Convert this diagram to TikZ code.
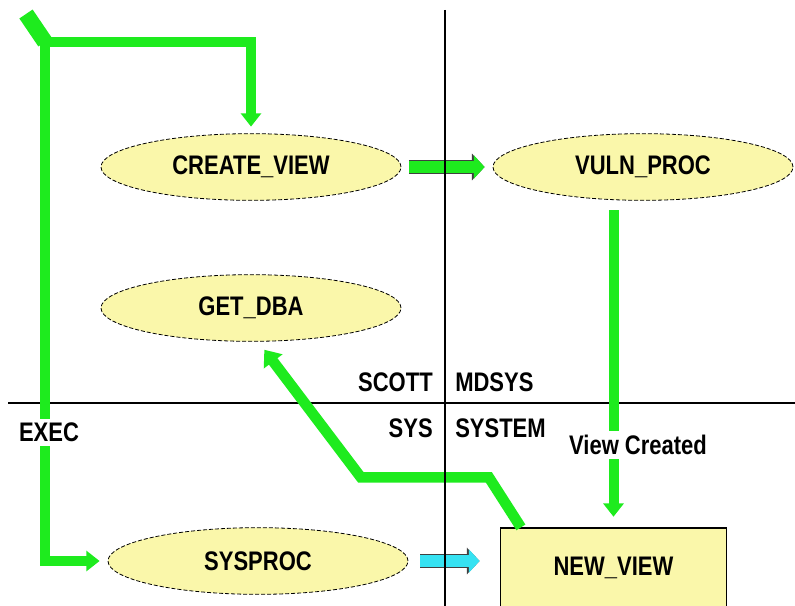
\documentclass[tikz,border=0pt]{standalone}
\usepackage{fontspec}
\setmainfont{Liberation Sans}
\usepackage{graphicx}
\usetikzlibrary{shapes.geometric, arrows.meta}
\definecolor{flowgreen}{HTML}{1EEB1E}
\definecolor{flowcyan}{HTML}{36E2F2}
\definecolor{procfill}{HTML}{FAF7AA}
\newcommand{\tallword}[1]{\scalebox{1}[1.22]{#1}}

\begin{document}
\begin{tikzpicture}[
    x=0.75pt, y=-0.75pt,
    every node/.style={font=\fontsize{16.5}{20}\selectfont\bfseries},
    proc/.style={ellipse, draw=black, dashed, dash pattern=on 3pt off 1.5pt, line width=0.6pt, fill=procfill, minimum width=225pt, minimum height=50pt, inner sep=0pt},
    viewbox/.style={rectangle, draw=black, line width=0.9pt, fill=procfill, minimum width=170pt, minimum height=60pt},
    axis/.style={draw=black, line width=1.4pt},
    flow/.style={draw=flowgreen, line width=7.5pt, -{Triangle[width=15pt, length=10pt]}},
    blockflow/.style={draw=#1, line width=9pt, -{Triangle[width=17pt, length=8pt]}, preaction={draw=black!75, line width=10.6pt, -{Triangle[width=19.5pt, length=9.5pt]}}},
    zone/.style={inner sep=0pt},
    tag/.style={fill=white, inner sep=3pt}
]
  \useasboundingbox (0,0) rectangle (795,606);

  % schema boundary (SCOTT/MDSYS above, SYS/SYSTEM below)
  \draw[axis] (8,403) -- (795,403);

  % procedures and the view
  \node[proc] (cv) at (251,167) {\tallword{CREATE\_VIEW}};
  \node[proc] (vp) at (643,167) {\tallword{VULN\_PROC}};
  \node[proc] (gd) at (251,308) {\tallword{GET\_DBA}};
  \node[proc] (sp) at (258,561) {\tallword{SYSPROC}};
  \node[viewbox] (nv) at (613.5,568) {\tallword{NEW\_VIEW}};

  % EXEC entry, split in two
  \coordinate (stub) at (26,14);
  \coordinate (split) at (45,42);
  \draw[flowgreen, line width=12pt, line cap=butt] (stub) -- (split);
  \draw[flow, shorten >=5pt] ([xshift=-2.8pt]split) -| (cv.north);
  \draw[flow, shorten >=6pt] ([yshift=2.8pt]split) |- (sp.west);

  % calls
  \draw[blockflow=flowgreen, shorten <=6pt, shorten >=6pt] (cv.east) -- (vp.west);
  \draw[flow, shorten <=7pt, shorten >=8pt] (nv.north |- vp.south) -- (nv.north);
  \draw[flow, line width=8pt, -{Triangle[width=17pt, length=11pt]}]
    ([xshift=16pt]nv.north west) -- ++(-32,-50) -- ++(-128,0) -- ([shift={(10pt,-6pt)}]gd.south);
  \draw[blockflow=flowcyan, shorten <=9pt, shorten >=15pt] (sp.east) -- (sp.east -| nv.west);

  % labels
  \node[tag] (exec) at (49,432) {\tallword{EXEC}};
  \node[tag] (made) at (638,445) {\tallword{View Created}};
  \node[zone, anchor=east] (scott) at (433,382) {\tallword{SCOTT}};
  \node[zone, anchor=west] (mdsys) at (455,382) {\tallword{MDSYS}};
  \node[zone, anchor=east] (sys) at (433,428) {\tallword{SYS}};
  \node[zone, anchor=west] (system) at (455,428) {\tallword{SYSTEM}};

  \draw[axis] (445,10) -- (445,606);

\end{tikzpicture}
\end{document}
